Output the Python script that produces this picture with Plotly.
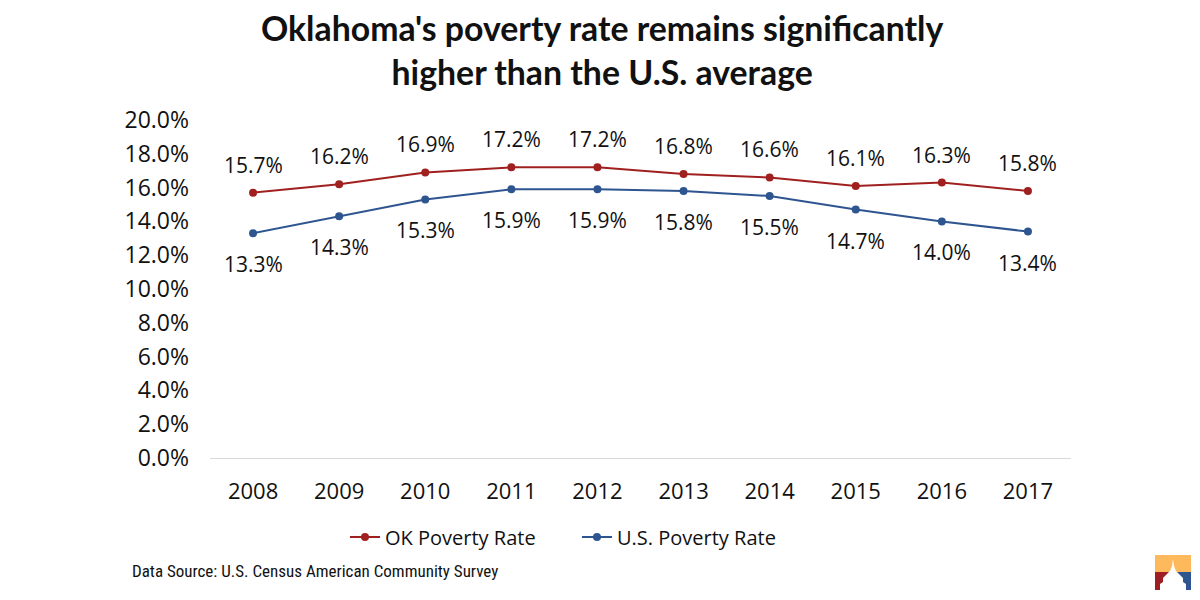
import plotly.graph_objects as go

years = ["2008", "2009", "2010", "2011", "2012", "2013", "2014", "2015", "2016", "2017"]
ok_rate = [15.7, 16.2, 16.9, 17.2, 17.2, 16.8, 16.6, 16.1, 16.3, 15.8]
us_rate = [13.3, 14.3, 15.3, 15.9, 15.9, 15.8, 15.5, 14.7, 14.0, 13.4]
y_ticks = [0, 2, 4, 6, 8, 10, 12, 14, 16, 18, 20]

RED = "#A0201F"
BLUE = "#2E5590"
FONT = "Open Sans, Noto Sans, sans-serif"
NB = "\u00a0"

fig = go.Figure()
fig.add_trace(go.Scatter(x=years, y=ok_rate, mode="lines+markers", name="OK Poverty Rate" + NB * 7,
                         line=dict(color=RED, width=2), marker=dict(color=RED, size=8)))
fig.add_trace(go.Scatter(x=years, y=us_rate, mode="lines+markers", name="U.S. Poverty Rate",
                         line=dict(color=BLUE, width=2), marker=dict(color=BLUE, size=8)))

anns = []
for i, v in enumerate(ok_rate):
    anns.append(dict(x=i, y=v, text=f"{v:.1f}%", showarrow=False, yshift=28,
                     font=dict(size=21, color="#111", family=FONT)))
for i, v in enumerate(us_rate):
    anns.append(dict(x=i, y=v, text=f"{v:.1f}%", showarrow=False, yshift=-31,
                     font=dict(size=21, color="#111", family=FONT)))
anns.append(dict(xref="paper", yref="paper", x=-0.093, y=-0.335, xanchor="left", yanchor="middle",
                 text="Data Source: U.S. Census American Community Survey", showarrow=False,
                 font=dict(size=17, color="#111", family="Liberation Sans Narrow, Roboto Condensed, Arial Narrow, sans-serif")))
anns.append(dict(xref="paper", yref="paper", x=0.455, y=1.338, xanchor="center", yanchor="top",
                 text="Oklahoma's poverty rate remains significantly<br>higher than the U.S. average",
                 showarrow=False,
                 font=dict(size=33.8, color="#111", family="Lato, Open Sans, sans-serif", weight="bold")))

# Logo (bottom right) drawn in paper coordinates
def px(x, y):
    return ((x - 210) / 861, (458 - y) / 338)

shapes = []
def rect(x0, y0, x1, y1, color):
    a = px(x0, y1); b = px(x1, y0)
    shapes.append(dict(type="rect", xref="paper", yref="paper", x0=a[0], y0=a[1], x1=b[0], y1=b[1],
                       fillcolor=color, line=dict(width=0), layer="above"))
rect(1155, 555, 1191, 572, "#FDB95B")
rect(1155, 572, 1173, 590, "#9E1F23")
rect(1173, 572, 1191, 590, "#2E5590")
pts = [(1160, 590), (1160, 584), (1163, 582), (1163, 578), (1166, 575), (1170, 571), (1172, 566),
       (1173, 559), (1174, 566), (1176, 571), (1180, 575), (1183, 578), (1183, 582), (1186, 584), (1186, 590)]
path = "M " + " L ".join(f"{px(a, b)[0]:.5f},{px(a, b)[1]:.5f}" for a, b in pts) + " Z"
shapes.append(dict(type="path", xref="paper", yref="paper", path=path, fillcolor="white",
                   line=dict(width=0), layer="above"))

fig.update_layout(
    width=1200, height=600,
    paper_bgcolor="white", plot_bgcolor="white",
    margin=dict(l=210, r=129, t=120, b=142),
    xaxis=dict(type="category", range=[-0.5, 9.5], showgrid=False, showline=True, linecolor="#D9D9D9",
               linewidth=1, ticks="", tickfont=dict(size=22, color="#111", family=FONT), ticklabelstandoff=14),
    yaxis=dict(range=[0, 20], tickvals=y_ticks, ticktext=[f"{t:.1f}%" for t in y_ticks],
               showgrid=False, zeroline=False, showline=False, ticks="",
               tickfont=dict(size=23, color="#111", family=FONT), ticklabelstandoff=20),
    legend=dict(orientation="h", x=0.41, xanchor="center", y=-0.234, yanchor="middle",
                font=dict(size=20, color="#111", family=FONT)),
    annotations=anns, shapes=shapes, showlegend=True,
)
fig.write_html("out.html")
